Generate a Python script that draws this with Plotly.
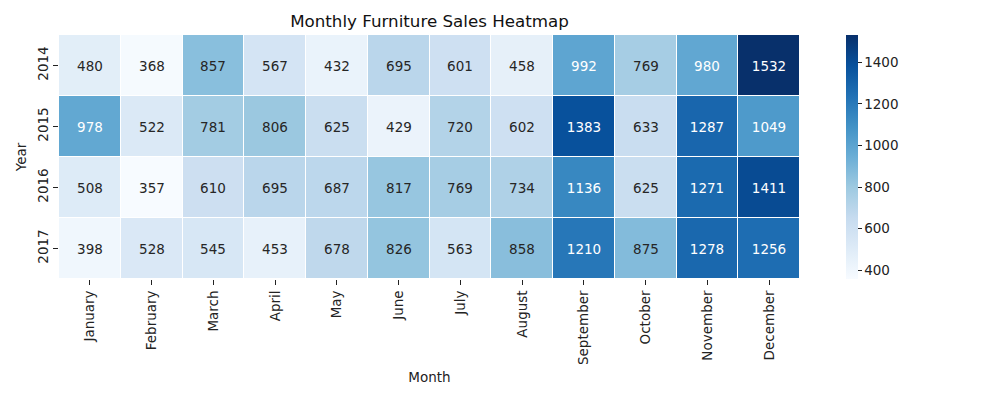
import plotly.graph_objects as go
import plotly.express as px

months = ["January", "February", "March", "April", "May", "June", "July",
          "August", "September", "October", "November", "December"]
years = ["2014", "2015", "2016", "2017"]

sales_2014 = [480, 368, 857, 567, 432, 695, 601, 458, 992, 769, 980, 1532]
sales_2015 = [978, 522, 781, 806, 625, 429, 720, 602, 1383, 633, 1287, 1049]
sales_2016 = [508, 357, 610, 695, 687, 817, 769, 734, 1136, 625, 1271, 1411]
sales_2017 = [398, 528, 545, 453, 678, 826, 563, 858, 1210, 875, 1278, 1256]

z = [sales_2014, sales_2015, sales_2016, sales_2017]
zmin = min(min(r) for r in z)
zmax = max(max(r) for r in z)

# cell labels, white on dark cells like seaborn
labels = []
for row in z:
    out = []
    for v in row:
        frac = (v - zmin) / (zmax - zmin)
        col = "white" if frac > 0.45 else "#262626"
        out.append(f"<span style='color:{col}'>{v}</span>")
    labels.append(out)

fig = go.Figure(go.Heatmap(
    z=z,
    x=months,
    y=years,
    text=labels,
    texttemplate="%{text}",
    textfont=dict(size=13.5, family="DejaVu Sans"),
    colorscale=px.colors.sequential.Blues,
    zmin=zmin,
    zmax=zmax,
    xgap=1,
    ygap=1,
    hoverinfo="skip",
    colorbar=dict(
        x=1.0486,
        xanchor="left",
        y=0.5,
        yanchor="middle",
        len=1,
        ypad=0,
        thickness=12,
        outlinewidth=0,
        tickvals=[400, 600, 800, 1000, 1200, 1400],
        ticks="outside",
        ticklen=4,
        tickcolor="#222",
        tickfont=dict(size=13.5, color="#222"),
    ),
))

# the page adds an 8px offset, so margins are shifted to compensate
fig.update_layout(
    width=1000,
    height=400,
    margin=dict(l=51, r=208, t=27, b=129),
    paper_bgcolor="white",
    plot_bgcolor="white",
    font=dict(family="DejaVu Sans", size=13.5, color="#222"),
    title=dict(text="Monthly Furniture Sales Heatmap", x=0.5, xref="paper",
               xanchor="center", y=0.9675, yanchor="middle",
               font=dict(size=16.7, color="#111")),
    xaxis=dict(
        type="category",
        automargin=False,
        title=dict(text="Month", standoff=8, font=dict(size=13.5)),
        tickangle=-90,
        ticks="outside", ticklen=5, tickcolor="#222",
        showgrid=False, zeroline=False, showline=False,
    ),
    yaxis=dict(
        type="category",
        automargin=False,
        title=dict(text="Year", standoff=4, font=dict(size=13.5)),
        autorange="reversed",
        tickangle=-90,
        ticks="outside", ticklen=5, tickcolor="#222",
        showgrid=False, zeroline=False, showline=False,
    ),
)

fig.write_html("out.html")
